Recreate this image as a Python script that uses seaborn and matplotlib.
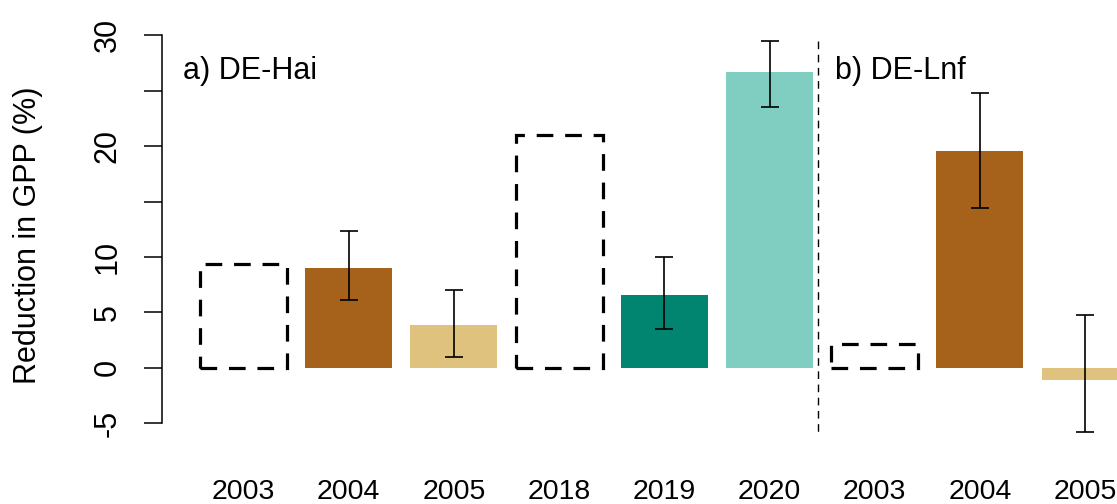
import numpy as np
import pandas as pd
import matplotlib
matplotlib.use("Agg")
import matplotlib.pyplot as plt
import seaborn as sns

# values (reduction in GPP, %)
years = ["2003", "2004", "2005", "2018", "2019", "2020", "2003", "2004", "2005"]
sites = ["DE-Hai"] * 6 + ["DE-Lnf"] * 3
gpp_red = [9.4, 9.0, 3.9, 21.0, 6.6, 26.7, 2.1, 19.6, -1.1]
err_low = [np.nan, 6.1, 1.0, np.nan, 3.5, 23.5, np.nan, 14.4, -5.8]
err_high = [np.nan, 12.3, 7.05, np.nan, 10.0, 29.5, np.nan, 24.8, 4.8]
is_ref = [True, False, False, True, False, False, True, False, False]  # dashed boxes
bar_colors = ["white", "#A6611A", "#DFC27D", "white", "#018571", "#80CDC1",
              "white", "#A6611A", "#DFC27D"]

sns.set_style("white")
plt.rcParams["font.family"] = ["Liberation Sans", "DejaVu Sans"]
plt.rcParams["lines.scale_dashes"] = False
for k in ["text.color", "axes.labelcolor", "xtick.color", "ytick.color"]:
    plt.rcParams[k] = "black"

df = pd.DataFrame({"idx": np.arange(len(years)), "year": years, "site": sites,
                   "gpp": gpp_red, "lo": err_low, "hi": err_high})

fig = plt.figure(figsize=(11.17, 5.04), dpi=100)
ax = fig.add_axes([161.7 / 1117, (504 - 438.6) / 504, 1 - 161.7 / 1117, (438.6 - 19.9) / 504])

sns.barplot(data=df, x="idx", y="gpp", hue="idx", palette=bar_colors, legend=False,
            width=0.827, saturation=1, linewidth=0, ax=ax)

# reference years drawn as dashed empty boxes
for patch, ref in zip(ax.patches, is_ref):
    if ref:
        patch.set_facecolor("none")
        patch.set_edgecolor("black")
        patch.set_linewidth(2.3)
        patch.set_linestyle((0, (12, 8.5)))

# error bars
m = df["lo"].notna()
ax.errorbar(df.loc[m, "idx"], df.loc[m, "gpp"],
            yerr=[df.loc[m, "gpp"] - df.loc[m, "lo"], df.loc[m, "hi"] - df.loc[m, "gpp"]],
            fmt="none", ecolor="black", elinewidth=1.2, capsize=6.8, capthick=1.2)

# separator between the two sites
ax.vlines(5.458, 29.5, -6.1, colors="black", linewidth=1.0, linestyles=(0, (5.5, 4)))

ax.text(-0.575, 26.8, "a) DE-Hai", fontsize=22, va="center", ha="left")
ax.text(5.62, 26.8, "b) DE-Lnf", fontsize=22, va="center", ha="left")

ax.set_xlim(-0.778, 8.303)
ax.set_ylim(-6.4, 31.4)

ax.set_xticks(df["idx"])
ax.set_xticklabels(years, fontsize=20.5)
ax.tick_params(axis="x", length=0, pad=29)

yt = [-5, 0, 5, 10, 15, 20, 25, 30]
ax.set_yticks(yt)
ax.set_yticklabels(["-5", "0", "5", "10", "", "20", "", "30"], fontsize=22,
                   rotation=90, va="center")
ax.tick_params(axis="y", length=13, width=1.1, pad=15, color="black", left=True)

for s in ["top", "right", "bottom"]:
    ax.spines[s].set_visible(False)
ax.spines["left"].set_bounds(-5, 30)
ax.spines["left"].set_linewidth(1.1)
ax.spines["left"].set_color("black")

ax.set_xlabel("")
ax.set_ylabel("Reduction in GPP (%)", fontsize=22, va="center")
ax.yaxis.set_label_coords(-0.14, 0.486)

fig.savefig("out.png", dpi=100)
